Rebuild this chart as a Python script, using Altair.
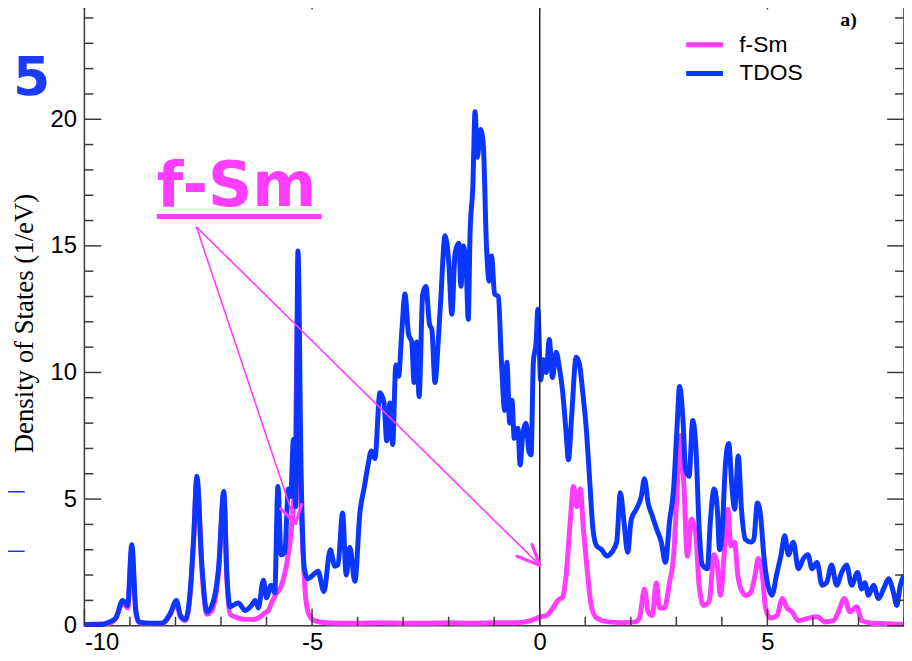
import altair as alt
import pandas as pd

# ---------------- data ----------------
tdos = [(-10.0, 0.05), (-9.6, 0.05), (-9.45, 0.15), (-9.31, 0.3), (-9.16, 1.0), (-9.05, 0.8),
        (-8.96, 3.2), (-8.87, 0.6), (-8.80, 0.15), (-8.6, 0.1), (-8.3, 0.1), (-8.11, 0.5),
        (-7.98, 1.0), (-7.89, 0.4), (-7.78, 0.25), (-7.67, 1.5), (-7.6, 3.5), (-7.53, 5.9),
        (-7.42, 2.4), (-7.31, 0.55), (-7.20, 0.8), (-7.05, 2.35), (-6.94, 5.3), (-6.87, 2.0),
        (-6.80, 0.75), (-6.62, 0.9), (-6.47, 0.6), (-6.33, 0.8), (-6.25, 1.0), (-6.18, 0.7),
        (-6.07, 1.8), (-6.0, 1.1), (-5.9, 1.6), (-5.82, 1.3), (-5.75, 5.5), (-5.68, 2.8),
        (-5.6, 2.9), (-5.52, 5.4), (-5.47, 5.1), (-5.41, 7.35), (-5.36, 4.7), (-5.31, 14.8),
        (-5.24, 6.0), (-5.17, 2.25), (-5.09, 1.85), (-4.98, 2.0), (-4.87, 2.15), (-4.74, 1.35),
        (-4.6, 3.0), (-4.5, 2.35), (-4.43, 2.4), (-4.33, 4.45), (-4.25, 2.0), (-4.17, 3.1),
        (-4.06, 1.75), (-3.95, 4.45), (-3.85, 5.5), (-3.77, 6.35), (-3.7, 6.9), (-3.62, 6.6),
        (-3.51, 9.2), (-3.42, 8.8), (-3.36, 7.3), (-3.29, 8.8), (-3.23, 7.15), (-3.16, 10.3),
        (-3.1, 9.85), (-3.03, 11.6), (-2.96, 13.1), (-2.88, 11.5), (-2.81, 11.2), (-2.76, 9.6),
        (-2.7, 11.2), (-2.65, 9.05), (-2.57, 13.1), (-2.5, 13.4), (-2.42, 11.9), (-2.37, 11.7),
        (-2.3, 9.6), (-2.23, 11.2), (-2.17, 13.0), (-2.08, 15.4), (-2.0, 14.4), (-1.93, 12.3),
        (-1.86, 14.7), (-1.78, 15.1), (-1.73, 13.4), (-1.68, 15.0), (-1.62, 14.4), (-1.57, 12.1),
        (-1.53, 15.5), (-1.47, 17.3), (-1.42, 20.3), (-1.37, 18.5), (-1.3, 19.6), (-1.24, 19.0),
        (-1.17, 15.0), (-1.11, 13.6), (-1.06, 14.6), (-0.99, 13.1), (-0.91, 13.0), (-0.84, 10.4),
        (-0.77, 8.5), (-0.72, 10.4), (-0.66, 8.0), (-0.61, 8.9), (-0.56, 7.4), (-0.48, 7.8),
        (-0.43, 6.35), (-0.38, 7.4), (-0.3, 8.0), (-0.24, 6.9), (-0.19, 6.75), (-0.14, 10.4),
        (-0.08, 11.2), (-0.04, 12.5), (0.02, 9.7), (0.08, 10.5), (0.14, 10.0), (0.21, 11.3),
        (0.28, 9.8), (0.36, 10.8), (0.43, 10.2), (0.5, 9.3), (0.58, 7.6), (0.63, 6.55),
        (0.7, 8.25), (0.8, 10.6), (0.87, 10.35), (0.94, 9.3), (1.03, 7.6), (1.1, 5.65),
        (1.17, 3.8), (1.25, 3.15), (1.36, 3.0), (1.47, 2.75), (1.58, 2.9), (1.69, 3.3),
        (1.77, 5.25), (1.85, 4.1), (1.93, 2.9), (2.01, 4.2), (2.12, 4.6), (2.23, 5.1),
        (2.3, 5.8), (2.38, 4.85), (2.47, 4.35), (2.57, 3.8), (2.67, 3.3), (2.76, 2.5),
        (2.85, 4.1), (2.94, 5.4), (3.02, 8.0), (3.07, 9.45), (3.15, 8.0), (3.2, 6.2),
        (3.28, 5.9), (3.36, 8.1), (3.43, 7.0), (3.5, 3.9), (3.57, 2.4), (3.68, 2.25),
        (3.75, 4.2), (3.83, 5.4), (3.9, 4.6), (3.95, 3.0), (4.0, 3.55), (4.08, 6.4),
        (4.15, 7.2), (4.22, 5.5), (4.28, 4.6), (4.36, 6.7), (4.43, 4.6), (4.52, 3.4),
        (4.63, 3.3), (4.7, 3.4), (4.78, 4.85), (4.85, 4.35), (4.92, 2.8), (5.0, 1.7),
        (5.1, 1.2), (5.2, 2.0), (5.3, 2.8), (5.38, 3.55), (5.46, 2.8), (5.57, 3.3),
        (5.68, 2.25), (5.79, 2.65), (5.89, 2.8), (5.98, 2.25), (6.09, 2.5), (6.2, 1.6),
        (6.3, 1.7), (6.41, 2.4), (6.52, 1.6), (6.63, 2.1), (6.74, 2.4), (6.85, 1.6),
        (6.98, 2.1), (7.07, 1.45), (7.14, 1.7), (7.22, 1.2), (7.33, 1.6), (7.44, 1.07),
        (7.55, 1.45), (7.66, 1.85), (7.77, 1.3), (7.84, 0.8), (7.92, 1.6), (8.0, 2.0)]

fsm = [(-10.0, 0.05), (-9.45, 0.1), (-9.31, 0.3), (-9.16, 0.9), (-9.05, 0.7), (-8.96, 3.0),
       (-8.87, 0.5), (-8.80, 0.12), (-8.3, 0.08), (-8.11, 0.45), (-7.98, 0.9), (-7.89, 0.35),
       (-7.78, 0.2), (-7.67, 1.4), (-7.6, 3.4), (-7.53, 5.8), (-7.42, 2.2), (-7.31, 0.45),
       (-7.20, 0.6), (-7.05, 2.2), (-6.94, 5.2), (-6.87, 1.8), (-6.80, 0.45), (-6.62, 0.3),
       (-6.47, 0.25), (-6.3, 0.25), (-6.18, 0.3), (-6.04, 0.5), (-5.96, 0.6), (-5.89, 0.9),
       (-5.81, 1.2), (-5.67, 1.6), (-5.56, 2.4), (-5.45, 3.9), (-5.38, 5.8), (-5.31, 12.8),
       (-5.26, 6.0), (-5.2, 3.0), (-5.14, 1.1), (-5.07, 0.45), (-4.95, 0.2), (-4.7, 0.12),
       (-4.0, 0.1), (-3.5, 0.12), (-3.0, 0.1), (-2.5, 0.1), (-2.0, 0.12), (-1.5, 0.1),
       (-1.0, 0.12), (-0.5, 0.12), (-0.2, 0.2), (-0.05, 0.3), (0.01, 0.35), (0.15, 0.4),
       (0.29, 0.7), (0.4, 1.0), (0.51, 1.15), (0.58, 2.0), (0.67, 4.1), (0.74, 5.5),
       (0.82, 4.7), (0.89, 5.4), (0.96, 3.8), (1.04, 2.25), (1.13, 0.8), (1.25, 0.3),
       (1.5, 0.15), (1.8, 0.12), (2.1, 0.15), (2.19, 0.3), (2.3, 1.45), (2.38, 0.55),
       (2.47, 0.4), (2.56, 1.7), (2.63, 0.7), (2.74, 0.7), (2.85, 1.7), (2.94, 2.75),
       (3.02, 5.4), (3.09, 7.5), (3.17, 5.4), (3.24, 2.75), (3.33, 4.2), (3.43, 3.55),
       (3.5, 1.6), (3.6, 0.8), (3.72, 0.95), (3.83, 2.8), (3.9, 2.4), (3.97, 1.2),
       (4.05, 2.8), (4.13, 4.6), (4.2, 3.15), (4.28, 3.3), (4.35, 2.0), (4.42, 1.45),
       (4.53, 1.2), (4.63, 1.3), (4.73, 2.0), (4.8, 2.65), (4.89, 2.0), (4.96, 0.7),
       (5.07, 0.3), (5.21, 0.4), (5.33, 1.07), (5.43, 0.7), (5.54, 0.55), (5.68, 0.2),
       (5.9, 0.3), (6.09, 0.35), (6.27, 0.15), (6.45, 0.2), (6.56, 0.55), (6.69, 1.07),
       (6.81, 0.55), (6.96, 0.75), (7.07, 0.2), (7.3, 0.1), (7.6, 0.08), (8.0, 0.05)]

series_names = ["f-Sm", "TDOS"]
series_colors = ["#ff3cff", "#0a36ff"]

x_major = [-10, -5, 0, 5]
x_minor = [v for v in range(-9, 9) if v % 5 != 0]
y_major = [0, 5, 10, 15, 20]
y_minor = [v for v in range(1, 25) if v % 5 != 0]

# annotations (data coordinates)
ann_text = [{"E": -8.41, "DOS": 16.58, "t": "f-Sm"}]
ann_underline = [{"E": -8.41, "E2": -4.79, "DOS": 16.16}]
arrow_shafts = [{"E": -7.54, "DOS": 15.75, "E2": -5.36, "DOS2": 4.04},
                {"E": -7.54, "DOS": 15.75, "E2": 0.0, "DOS2": 2.39}]
arrow_heads = [{"E": -5.69, "DOS": 4.62, "E2": -5.36, "DOS2": 4.04},
               {"E": -5.23, "DOS": 4.78, "E2": -5.36, "DOS2": 4.04},
               {"E": -0.50, "DOS": 2.74, "E2": 0.0, "DOS2": 2.39},
               {"E": -0.17, "DOS": 3.21, "E2": 0.0, "DOS2": 2.39}]
panel_label = [{"E": 6.60, "DOS": 23.67, "t": "a)"}]
sub5 = [{"E": -11.57, "DOS": 20.96, "t": "5"}]
left_bits = [{"E": -11.68, "E2": -11.31, "DOS": 5.29},
             {"E": -11.68, "E2": -11.31, "DOS": 2.94}]

W, H = 826, 638
MAJ, MIN = 17, 9
MAG, BLUE = series_colors
INK = "#3a3a3a"

xs = alt.Scale(domain=[-10, 8], nice=False, zero=False)
ys = alt.Scale(domain=[0, 25], nice=False, zero=False)

x_axis = alt.Axis(values=x_major, ticks=False, tickSize=0, domain=False, grid=False,
                  labelFont="Liberation Sans", labelFontSize=24, labelColor="black",
                  labelPadding=5, labelExpr="datum.value + ''", title=None)
y_axis = alt.Axis(values=y_major, ticks=False, tickSize=0, domain=False, grid=False,
                  labelFont="Liberation Sans", labelFontSize=24, labelColor="black",
                  labelPadding=8, title="Density of States (1/eV)",
                  titleFont="Liberation Serif", titleFontSize=27, titleFontWeight="normal",
                  titleColor="black", titleX=-46, titleY=333, titleAngle=270,
                  titleAlign="center", titleBaseline="bottom")


def X(field="E:Q"):
    return alt.X(field, scale=xs, axis=x_axis)


def Y(field="DOS:Q"):
    return alt.Y(field, scale=ys, axis=y_axis)


color = alt.Color(
    "series:N",
    scale=alt.Scale(domain=series_names, range=series_colors),
    legend=alt.Legend(
        title=None, orient="none", legendX=604, legendY=38, padding=0,
        symbolType="stroke", symbolStrokeWidth=5, symbolSize=1369,
        labelFont="Liberation Sans", labelFontSize=23, labelColor="black",
        labelOffset=14, rowPadding=0, clipHeight=29,
    ),
)

df_f = pd.DataFrame(fsm, columns=["E", "DOS"]).assign(series="f-Sm")
df_t = pd.DataFrame(tdos, columns=["E", "DOS"]).assign(series="TDOS")

line_f = alt.Chart(df_f).mark_line(strokeWidth=5, strokeJoin="round", interpolate="monotone").encode(
    x=X(), y=Y(), color=color)
line_t = alt.Chart(df_t).mark_line(strokeWidth=5, strokeJoin="round", interpolate="monotone").encode(
    x=X(), y=Y(), color=color)

zero_line = alt.Chart(pd.DataFrame({"E": [0]})).mark_rule(color="#222", strokeWidth=1.5).encode(x=X())


def yticks(vals, length):
    d = pd.DataFrame({"DOS": vals})
    left = alt.Chart(d).mark_rule(color=INK, strokeWidth=1.5).encode(
        y=Y(), x=alt.value(0), x2=alt.value(length))
    right = alt.Chart(d).mark_rule(color=INK, strokeWidth=1.5).encode(
        y=Y(), x=alt.value(W - length), x2=alt.value(W))
    return [left, right]


def xticks(vals, length):
    d = pd.DataFrame({"E": vals})
    bottom = alt.Chart(d).mark_rule(color=INK, strokeWidth=1.5).encode(
        x=X(), y=alt.value(H - length), y2=alt.value(H))
    top = alt.Chart(d).mark_rule(color=INK, strokeWidth=1.5).encode(
        x=X(), y=alt.value(0), y2=alt.value(length))
    return [bottom, top]


ticks = yticks(y_major, MAJ) + yticks(y_minor, MIN) + xticks(x_major, MAJ) + xticks(x_minor, MIN)

fsm_label = alt.Chart(pd.DataFrame(ann_text)).mark_text(
    align="left", baseline="alphabetic", font="DejaVu Sans", fontWeight="bold",
    fontSize=62, color=MAG).encode(x=X(), y=Y(), text="t:N")
underline = alt.Chart(pd.DataFrame(ann_underline)).mark_rule(color=MAG, strokeWidth=5).encode(
    x=X(), x2="E2:Q", y=Y())
shafts = alt.Chart(pd.DataFrame(arrow_shafts)).mark_rule(color=MAG, strokeWidth=1.6).encode(
    x=X(), x2="E2:Q", y=Y(), y2="DOS2:Q")
heads = alt.Chart(pd.DataFrame(arrow_heads)).mark_rule(color=MAG, strokeWidth=3.2, strokeCap="round").encode(
    x=X(), x2="E2:Q", y=Y(), y2="DOS2:Q")
a_label = alt.Chart(pd.DataFrame(panel_label)).mark_text(
    align="left", baseline="alphabetic", font="Liberation Serif", fontWeight="bold",
    fontSize=20, color="black").encode(x=X(), y=Y(), text="t:N")
five = alt.Chart(pd.DataFrame(sub5)).mark_text(
    align="left", baseline="alphabetic", font="DejaVu Sans", fontWeight="bold",
    fontSize=54, color="#1a3cff").encode(x=X(), y=Y(), text="t:N")
bits = alt.Chart(pd.DataFrame(left_bits)).mark_rule(color="#2233ee", strokeWidth=1.5).encode(
    x=X(), x2="E2:Q", y=Y())

chart = alt.layer(
    line_f, line_t, zero_line, *ticks, shafts, heads, underline, fsm_label, a_label, five, bits
).properties(
    width=W, height=H,
    autosize=alt.AutoSizeParams(type="none"),
    padding={"left": 77, "top": -18, "right": 0, "bottom": 25},
    background="white",
).configure_view(stroke=INK, strokeWidth=1.5)

chart.save("out.html", embed_options={"renderer": "svg", "actions": False})
